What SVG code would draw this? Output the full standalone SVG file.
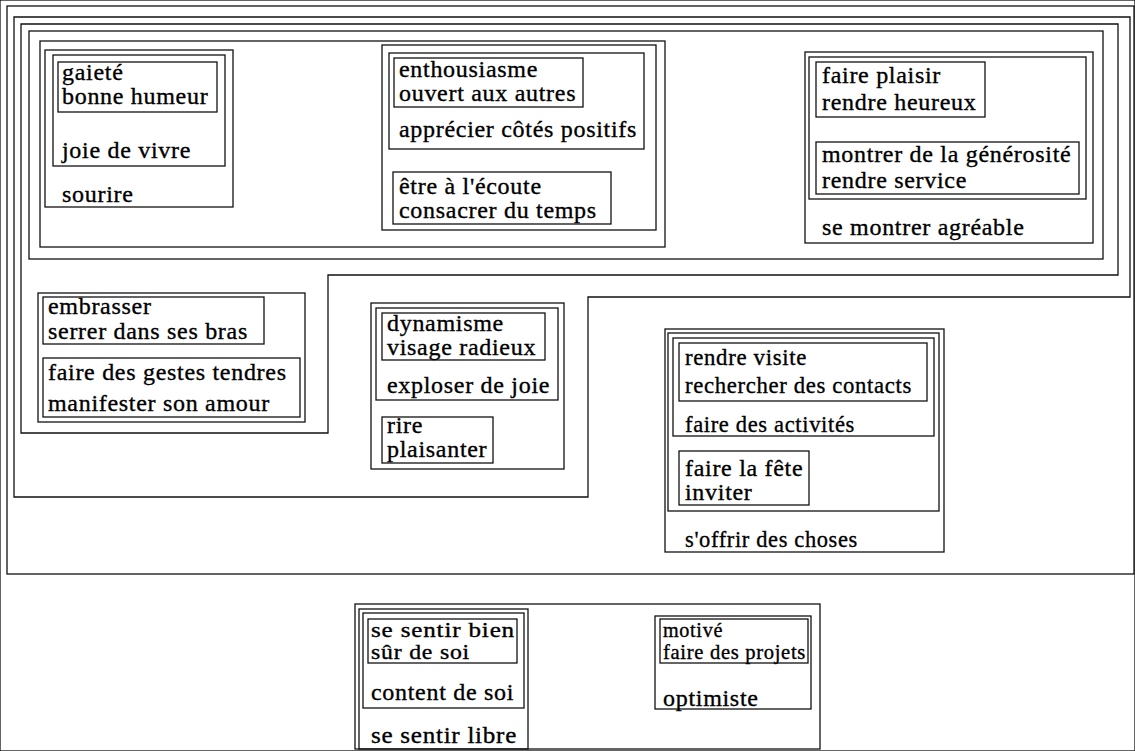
<svg xmlns="http://www.w3.org/2000/svg" width="1135" height="751" viewBox="0 0 1135 751">
<style>
rect, polygon { fill: none; stroke: #111; stroke-width: 1.3; }
text { font-family: "Liberation Serif", "Times New Roman", serif; font-size: 24px; letter-spacing: 0.7px; fill: #000; stroke: #000; stroke-width: 0.35px; }
text.tight { font-size: 21px; }
</style>
<rect width="1135" height="751" fill="#fff" stroke="none"/>

<g id="level1"><rect x="7" y="6" width="1127" height="568"/></g>
<g id="level2"><polygon points="14,17 1130,17 1130,297 588,297 588,497 14,497"/></g>
<g id="level3"><polygon points="21,24 1118,24 1118,275 328,275 328,433 21,433"/></g>
<g id="level4"><rect x="29" y="31" width="1074" height="228"/></g>
<g id="level5"><rect x="40" y="41" width="625" height="206"/></g>

<g id="gaiete-group">
  <rect x="45" y="50" width="188" height="157"/>
  <rect x="53" y="55" width="172" height="111"/>
  <rect x="58" y="62" width="159" height="50"/>
  <text x="62" y="80">gaieté</text>
  <text x="62" y="104">bonne humeur</text>
  <text x="62" y="158">joie de vivre</text>
  <text x="62" y="202">sourire</text>
</g>

<g id="enthousiasme-group">
  <rect x="382" y="45" width="274" height="185"/>
  <rect x="389" y="53" width="255" height="96"/>
  <rect x="394" y="58" width="189" height="49"/>
  <rect x="393" y="172" width="218" height="52"/>
  <text x="399" y="77">enthousiasme</text>
  <text x="399" y="101">ouvert aux autres</text>
  <text x="399" y="137">apprécier côtés positifs</text>
  <text x="399" y="194">être à l'écoute</text>
  <text x="399" y="218">consacrer du temps</text>
</g>

<g id="plaisir-group">
  <rect x="805" y="52" width="288" height="191"/>
  <rect x="809" y="57" width="277" height="142"/>
  <rect x="816" y="62" width="169" height="55"/>
  <rect x="816" y="142" width="263" height="52"/>
  <text x="822" y="83">faire plaisir</text>
  <text x="822" y="110">rendre heureux</text>
  <text x="822" y="162">montrer de la générosité</text>
  <text x="822" y="188">rendre service</text>
  <text x="822" y="235">se montrer agréable</text>
</g>

<g id="embrasser-group">
  <rect x="38" y="293" width="267" height="129"/>
  <rect x="43" y="297" width="221" height="47"/>
  <rect x="43" y="358" width="257" height="59"/>
  <text x="48" y="314">embrasser</text>
  <text x="48" y="339">serrer dans ses bras</text>
  <text x="48" y="380">faire des gestes tendres</text>
  <text x="48" y="411">manifester son amour</text>
</g>

<g id="dynamisme-group">
  <rect x="371" y="303" width="193" height="166"/>
  <rect x="376" y="308" width="182" height="92"/>
  <rect x="382" y="313" width="163" height="47"/>
  <rect x="382" y="417" width="111" height="46"/>
  <text x="387" y="331">dynamisme</text>
  <text x="387" y="355">visage radieux</text>
  <text x="387" y="393">exploser de joie</text>
  <text x="387" y="433">rire</text>
  <text x="387" y="457">plaisanter</text>
</g>

<g id="visite-group">
  <rect x="665" y="329" width="279" height="223"/>
  <rect x="668" y="333" width="271" height="178"/>
  <rect x="673" y="338" width="261" height="98"/>
  <rect x="679" y="343" width="248" height="58"/>
  <rect x="679" y="451" width="130" height="54"/>
  <text x="685" y="365" textLength="122" lengthAdjust="spacingAndGlyphs">rendre visite</text>
  <text x="685" y="393" textLength="227" lengthAdjust="spacingAndGlyphs">rechercher des contacts</text>
  <text x="685" y="432" textLength="170" lengthAdjust="spacingAndGlyphs">faire des activités</text>
  <text x="685" y="476">faire la fête</text>
  <text x="685" y="500">inviter</text>
  <text x="685" y="547" textLength="173" lengthAdjust="spacingAndGlyphs">s'offrir des choses</text>
</g>

<g id="bottom-container"><rect x="355" y="604" width="465" height="145"/></g>

<g id="soi-group">
  <rect x="359" y="609" width="169" height="140"/>
  <rect x="363" y="613" width="161" height="95"/>
  <rect x="368" y="619" width="149" height="44"/>
  <text class="tight" x="371" y="637" textLength="144" lengthAdjust="spacingAndGlyphs">se sentir bien</text>
  <text class="tight" x="371" y="659" textLength="99" lengthAdjust="spacingAndGlyphs">sûr de soi</text>
  <text x="371" y="700">content de soi</text>
  <text x="371" y="743" textLength="146" lengthAdjust="spacingAndGlyphs">se sentir libre</text>
</g>

<g id="motive-group">
  <rect x="655" y="616" width="156" height="93"/>
  <rect x="660" y="619" width="148" height="44"/>
  <text class="tight" x="663" y="637" textLength="60" lengthAdjust="spacingAndGlyphs">motivé</text>
  <text class="tight" x="663" y="659" textLength="143" lengthAdjust="spacingAndGlyphs">faire des projets</text>
  <text x="663" y="706">optimiste</text>
</g>

<g id="connectors"></g>
</svg>
